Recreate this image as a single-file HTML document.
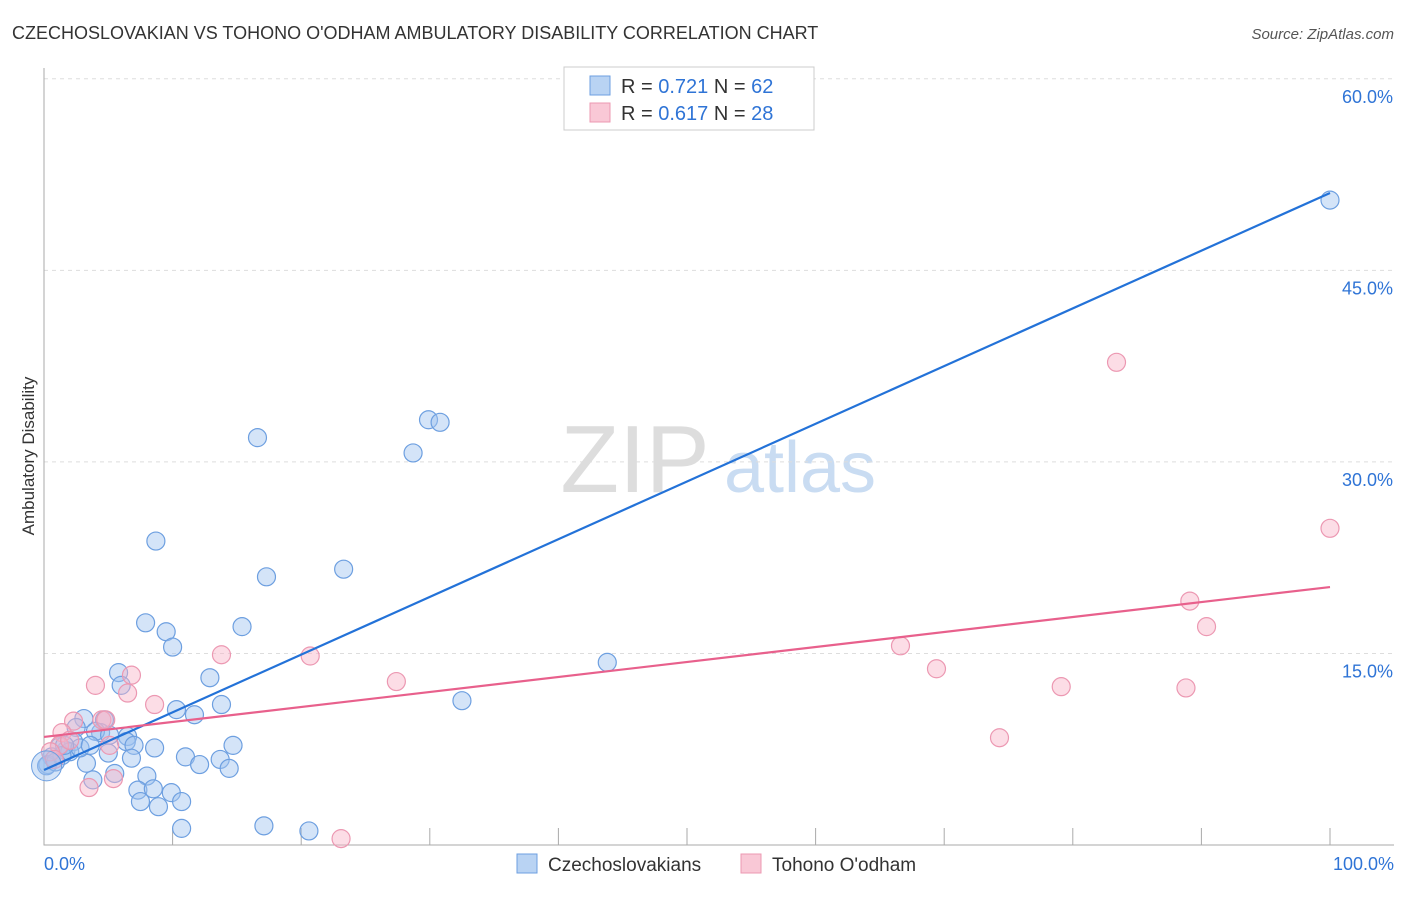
<!DOCTYPE html>
<html><head><meta charset="utf-8"><style>
body{margin:0;background:#fff;font-family:"Liberation Sans",sans-serif;}
svg text{font-family:"Liberation Sans",sans-serif;}
</style></head><body>
<svg id="chart" width="1406" height="892" xmlns="http://www.w3.org/2000/svg">
<text x="12" y="39" font-size="18" fill="#333">CZECHOSLOVAKIAN VS TOHONO O'ODHAM AMBULATORY DISABILITY CORRELATION CHART</text>
<text x="1394" y="39" font-size="15" fill="#555" text-anchor="end" font-style="italic">Source: ZipAtlas.com</text>
<text transform="translate(34,456) rotate(-90)" font-size="17" fill="#333" text-anchor="middle">Ambulatory Disability</text>
<g>
<text x="635" y="492" font-size="96" fill="#ddd" font-family="Liberation Serif" text-anchor="middle">ZIP</text>
<text x="800" y="492" font-size="72" fill="#c9dcf2" text-anchor="middle">atlas</text>
</g>
<g id="grid"></g><g id="axes"></g><g id="pts"></g><g id="lines"></g>
<g>
<rect x="564" y="67" width="250" height="63" fill="#fff" stroke="#ccc"/>
<rect x="590" y="76" width="20" height="19" fill="#b9d3f3" stroke="#6d9fe0"/>
<rect x="590" y="103" width="20" height="19" fill="#f9c8d6" stroke="#ec98b2"/>
<text x="621" y="93" font-size="20" fill="#333">R = <tspan fill="#2f74d6">0.721</tspan>   N = <tspan fill="#2f74d6">62</tspan></text>
<text x="621" y="120" font-size="20" fill="#333">R = <tspan fill="#2f74d6">0.617</tspan>   N = <tspan fill="#2f74d6">28</tspan></text>
</g>
<g>
<rect x="517" y="854" width="20" height="19" fill="#b9d3f3" stroke="#6d9fe0"/>
<text x="548" y="871" font-size="19" fill="#333">Czechoslovakians</text>
<rect x="741" y="854" width="20" height="19" fill="#f9c8d6" stroke="#ec98b2"/>
<text x="772" y="871" font-size="19" fill="#333">Tohono O'odham</text>
</g>
</svg>
<script>
const yTicks=[15,30,45,60];
const yTickLabels=["15.0%","30.0%","45.0%","60.0%"];
const xEndLabels=["0.0%","100.0%"];
const blueX=[100,16.6,29.9,30.8,28.7,8.7,17.3,23.3,7.9,9.5,10.0,15.4,43.8,5.8,6.0,12.9,32.5,10.3,11.7,13.8,3.1,4.7,2.5,4.4,4.0,6.5,6.4,7.0,8.6,14.7,5.0,6.8,11.0,12.1,13.7,14.4,1.7,1.2,0.6,0.3,0.2,2.3,2.0,3.3,3.8,5.5,8.0,7.3,8.5,9.9,10.7,7.5,8.9,10.7,17.1,20.6,1.4,0.9,2.8,3.6,5.1,1.6];
const blueY=[50.5,31.9,33.3,33.1,30.7,23.8,21.0,21.6,17.4,16.7,15.5,17.1,14.3,13.5,12.5,13.1,11.3,10.6,10.2,11.0,9.9,9.8,9.2,8.8,8.9,8.5,8.1,7.8,7.6,7.8,7.2,6.8,6.9,6.3,6.7,6.0,7.4,7.7,6.9,6.3,6.2,8.1,7.3,6.4,5.1,5.6,5.4,4.3,4.4,4.1,3.4,3.4,3.0,1.3,1.5,1.1,7.0,6.5,7.6,7.8,8.6,7.8];
const pinkX=[100,83.4,89.1,90.4,66.6,69.4,79.1,88.8,74.3,20.7,13.8,27.4,8.6,6.8,4.0,6.5,4.5,2.3,1.4,1.2,0.5,5.1,4.8,3.5,5.4,23.1,2.0,0.8];
const pinkY=[24.8,37.8,19.1,17.1,15.6,13.8,12.4,12.3,8.4,14.8,14.9,12.8,11.0,13.3,12.5,11.9,9.8,9.7,8.8,7.8,7.3,7.8,9.8,4.5,5.2,0.5,8.2,6.7];
const blueFit=[5.87,51.06];
const pinkFit=[8.46,20.2];
const NS="http://www.w3.org/2000/svg";
const xs=v=>44+v*12.86, ys=v=>845-v*12.77;
function mk(tag,parent,attrs){const e=document.createElementNS(NS,tag);for(const k in attrs)e.setAttribute(k,attrs[k]);document.getElementById(parent).appendChild(e);return e;}
yTicks.forEach((t,i)=>{
 const g=mk('line','grid',{x1:44,x2:1394,y1:ys(t),y2:ys(t),stroke:'#ddd','stroke-dasharray':'4,4'});
 
 
 const l=mk('text','grid',{x:1393,y:ys(t)+24,'font-size':18,fill:'#2f74d6','text-anchor':'end'});
 l.textContent=yTickLabels[i];
 
 
});
const ax=mk('path','axes',{d:'M44 68V845H1394',stroke:'#aaa',fill:'none'});


for(let i=1;i<=10;i++){
 const t=mk('line','axes',{x1:xs(i*10),x2:xs(i*10),y1:828,y2:845,stroke:'#aaa'});
 
 
}
[[0,'start',44],[100,'end',1394]].forEach((d,i)=>{
 const l=mk('text','axes',{x:d[2],y:870,'font-size':18,fill:'#2f74d6','text-anchor':d[1]});
 l.textContent=xEndLabels[i];
 
 
});
function pts(X,Y,fill,stroke,name){X.forEach((x,i)=>{
 const c=mk('circle','pts',{cx:xs(x),cy:ys(Y[i]),r:9,fill:fill,stroke:stroke,'stroke-width':1.2});
 
 
});}
pts(blueX,blueY,'rgba(160,196,240,0.45)','#6d9fe0','czechoslovakian-point');
pts(pinkX,pinkY,'rgba(248,180,200,0.45)','#ec98b2','tohono-point');
const big=mk('circle','pts',{cx:xs(0.2),cy:ys(6.2),r:15,fill:'rgba(160,196,240,0.45)',stroke:'#6d9fe0'});


const bl=mk('line','lines',{x1:xs(0),y1:ys(blueFit[0]),x2:xs(100),y2:ys(blueFit[1]),stroke:'#2372d8','stroke-width':2.2});


const pl=mk('line','lines',{x1:xs(0),y1:ys(pinkFit[0]),x2:xs(100),y2:ys(pinkFit[1]),stroke:'#e8608c','stroke-width':2.2});


</script>
</body></html>
